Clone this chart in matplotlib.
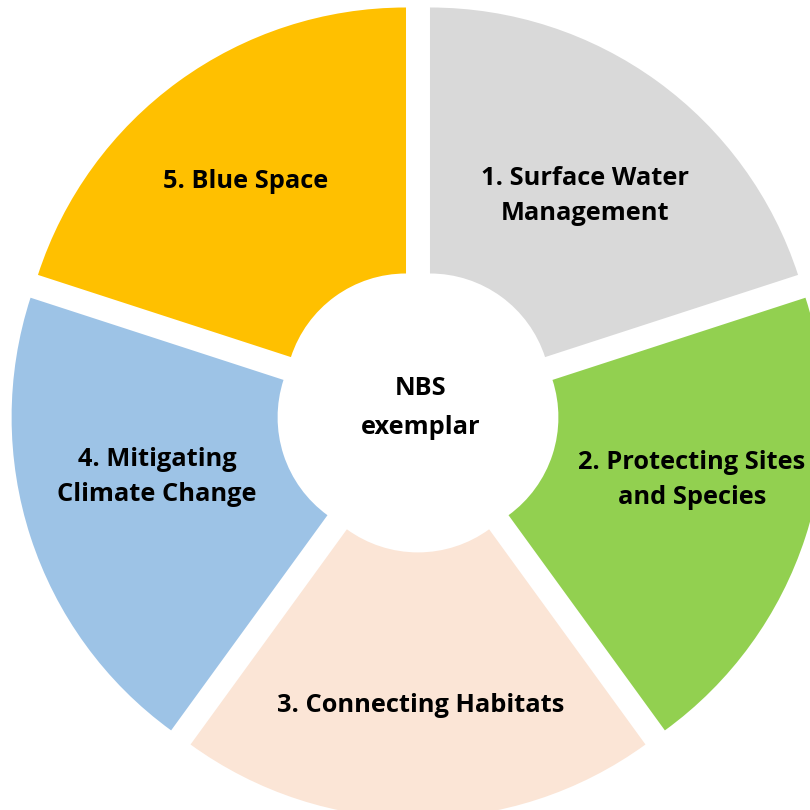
import matplotlib
matplotlib.use("Agg")
import matplotlib.pyplot as plt

# segments of the NBS exemplar wheel (clockwise from 12 o'clock)
labels = [
    "1. Surface Water\nManagement",
    "2. Protecting Sites\nand Species",
    "3. Connecting Habitats",
    "4. Mitigating\nClimate Change",
    "5. Blue Space",
]
values = [1, 1, 1, 1, 1]
colors = ["#D9D9D9", "#92D050", "#FBE5D6", "#9DC3E6", "#FFC000"]
centre_label = "NBS\nexemplar"

# label anchor points in pixel space (x, y from top)
label_pos = [(585, 196), (692, 480), (421, 706), (157, 477), (246, 181)]

W = H = 810
cx, cy = 418, H - 411
R, r = 387, 121
gap = 20.4

fig = plt.figure(figsize=(8.1, 8.1), dpi=100)
ax = fig.add_axes([0, 0, 1, 1])

ax.pie(
    values,
    colors=colors,
    startangle=90,
    counterclock=False,
    radius=R,
    center=(cx, cy),
    explode=[gap] * len(values),
    wedgeprops=dict(width=R - r, linewidth=0),
    frame=True,
)
ax.set_xlim(0, W)
ax.set_ylim(0, H)
ax.set_aspect("equal")
ax.axis("off")

font = ["Open Sans", "DejaVu Sans"]
for text, (x, y) in zip(labels, label_pos):
    ax.text(x, H - y, text, ha="center", va="center", fontsize=18.3,
            fontweight="bold", family=font, linespacing=1.5, color="black")

ax.text(421, H - 408, centre_label, ha="center", va="center", fontsize=18.3,
        fontweight="bold", family=font, linespacing=1.72, color="black")

fig.savefig("out.png", dpi=100)
